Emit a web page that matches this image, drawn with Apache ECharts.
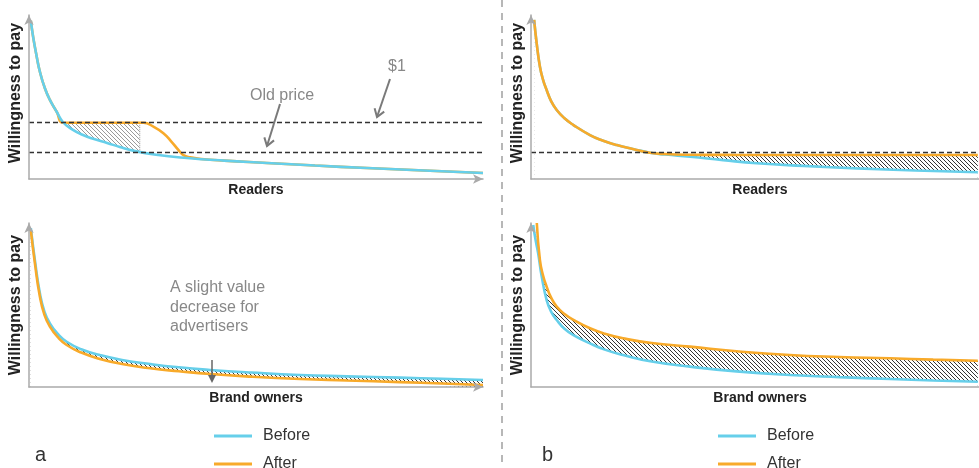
<!DOCTYPE html>
<html><head><meta charset="utf-8">
<script src="https://cdn.jsdelivr.net/npm/echarts/dist/echarts.min.js"></script>
<style>html,body{margin:0;padding:0;background:#fff}#c{width:979px;height:468px}</style>
</head><body><div id="c"></div>
<script>
// ---------- DATA (x: share of audience 0-100, y: willingness to pay 0-100) ----------
// Panel a, top: Readers
const aReadersX      = [0.4, 0.9, 1.7, 2.4, 3.5, 4.6, 6.1, 7.5, 9.5, 11.9, 14.5, 17.2, 20, 22.9, 28, 34.8, 43, 52.4, 63, 74.4, 87, 100];
const aReadersBefore = [96.5, 86.8, 74.6, 65.4, 55.3, 48.2, 41.0, 34.6, 30.3, 26.8, 24.2, 22.0, 19.5, 17.3, 14.8, 12.8, 11.2, 9.8, 8.2, 6.7, 5.2, 3.7];
const aReadersAfterX = [0.4, 0.9, 1.7, 2.4, 3.5, 4.6, 6.1, 7.5, 12, 18, 23, 25.2, 27.4, 29.6, 31.4, 32.9, 34.0, 35.5, 38, 43, 52.4, 63, 74.4, 87, 100];
const aReadersAfter  = [96.5, 86.8, 74.6, 65.4, 55.3, 48.2, 41.0, 34.3, 34.3, 34.3, 34.3, 34.3, 31.9, 27.9, 22.7, 17.7, 14.6, 13.2, 12.2, 11.2, 9.8, 8.2, 6.7, 5.2, 3.7];
const aGainX         = [7.5, 24.4];      // readers who gain surplus
const aGainTop       = [34.3, 34.3];
const aCutX          = [24.4, 24.4];     // dotted cut-off
const aCutY          = [16.6, 34.3];
const aPriceLevels   = [34.3, 16.5];     // $1 and old price
// Panel b, top: Readers
const bReadersX      = [0.7, 1.3, 2.0, 2.7, 3.5, 4.5, 5.75, 7.5, 9.5, 13.2, 16, 19.2, 23, 26.6, 30, 35.6, 43, 50.5, 61, 72.9, 86, 100];
const bReadersBefore = [97, 82, 68.5, 60.5, 54.3, 47.5, 42.1, 37, 32.9, 26.8, 23.5, 20.7, 18.2, 16.0, 14.9, 13.6, 11.5, 9.6, 8.0, 6.5, 5.2, 4.1];
const bReadersAfter  = [97, 82, 68.5, 60.5, 54.3, 47.5, 42.1, 37, 32.9, 26.8, 23.5, 20.7, 18.2, 16.0, 15.2, 14.8, 14.7, 14.6, 14.6, 14.6, 14.6, 14.6];
const bPriceLevels   = [16.3];
// Panel a, bottom: Brand owners
const aBrandX        = [0.4, 1.3, 2.4, 3.4, 4.6, 6.3, 8.3, 11.5, 15.6, 20.5, 26.7, 33, 39.9, 49, 59.7, 70, 81.7, 91, 100];
const aBrandBefore   = [96.8, 77.4, 57.1, 46, 38.8, 32.5, 27.6, 23, 19.5, 16.5, 14, 12, 10.4, 8.8, 7.3, 6.5, 5.7, 5.0, 4.3];
const aBrandAfter    = [95.7, 75.4, 55, 44, 36.8, 30.5, 25.6, 21, 17.1, 14, 11.4, 9.6, 7.9, 6.3, 4.9, 4.0, 3.0, 2.1, 1.2];
// Panel b, bottom: Brand owners
const bBrandX        = [0.5, 1.0, 1.6, 2.4, 3.5, 4.5, 5.75, 7.5, 9.5, 13.2, 16.5, 20.6, 27, 35.6, 46, 57.9, 69, 80.3, 90, 100];
const bBrandBefore   = [98.8, 90, 81.5, 67.3, 53, 46, 40.9, 35.5, 31.7, 26.6, 22.8, 19.5, 15.5, 12.4, 9.5, 7.3, 6.0, 4.9, 4.0, 3.2];
const bBrandAfterX   = [1.3, 2.0, 2.7, 3.5, 4.5, 5.75, 7.5, 9.5, 13.2, 16.5, 20.6, 27, 35.6, 46, 57.9, 69, 80.3, 90, 100];
const bBrandAfter    = [100, 77.4, 68, 61.2, 54.5, 49, 44.5, 40.9, 35.8, 32.5, 29.7, 26.8, 24.6, 21.8, 19.5, 18.3, 17.5, 16.7, 16];

const legendNames = ['Before', 'After'];
const xNames = ['Readers', 'Readers', 'Brand owners', 'Brand owners'];
const yName = 'Willingness to pay';

// ---------- STYLE ----------
const FONT = '"Liberation Sans", Arial, Helvetica, sans-serif';
const BLUE = '#66CFEA', ORANGE = '#F8AA2A';

function zip(xs, ys) { return xs.map((x, i) => [x, ys[i]]); }
function hatch(color) {
  const s = 4, c = document.createElement('canvas');
  c.width = c.height = s;
  const g = c.getContext('2d');
  g.strokeStyle = color; g.lineWidth = 1;
  g.beginPath();
  g.moveTo(0, 0); g.lineTo(s, s);
  g.moveTo(-1, s - 1); g.lineTo(1, s + 1);
  g.moveTo(s - 1, -1); g.lineTo(s + 1, 1);
  g.stroke();
  return { image: c, repeat: 'repeat' };
}
const HATCH_LIGHT = hatch('#9a9a9a');
const HATCH_DARK = hatch('#333333');

function base(name, gi, data, z) {
  return { type: 'line', name, xAxisIndex: gi, yAxisIndex: gi, data, z,
    smooth: 0.5, symbol: 'none', showSymbol: false,
    silent: true, animation: false, emphasis: { disabled: true } };
}
function line(name, gi, data, color, z, extra) {
  return Object.assign(base(name, gi, data, z), {
    color, itemStyle: { color }, lineStyle: { color, width: 2.6 } }, extra || {});
}
function fill(name, gi, data, fillColor, z) {
  return Object.assign(base(name, gi, data, z), {
    lineStyle: { width: 0, opacity: 0 }, areaStyle: { color: fillColor, opacity: 1 } });
}
function priceMarks(levels) {
  return { silent: true, symbol: 'none', animation: false, label: { show: false },
    lineStyle: { type: [5, 3], color: '#333', width: 1.4 },
    data: levels.map(v => ({ yAxis: v })) };
}

const grids = [
  { left: 29, top: 15, width: 454, height: 164, outerBoundsMode: 'none', containLabel: false },
  { left: 531, top: 15, width: 458, height: 164, outerBoundsMode: 'none', containLabel: false },
  { left: 29, top: 223, width: 454, height: 164, outerBoundsMode: 'none', containLabel: false },
  { left: 531, top: 223, width: 458, height: 164, outerBoundsMode: 'none', containLabel: false }
];
const axisLine = { show: true, symbol: ['none', 'arrow'], symbolSize: [7, 10],
  lineStyle: { color: '#aaaaaa', width: 1.5 } };
const xAxis = grids.map((g, i) => ({
  type: 'value', gridIndex: i, min: 0, max: (i % 2) ? 102.5 : 100, z: 10,
  axisLine, axisTick: { show: false }, axisLabel: { show: false }, splitLine: { show: false },
  name: xNames[i], nameLocation: 'middle', nameGap: 4,
  nameTextStyle: { fontFamily: FONT, fontSize: 14, fontWeight: 'bold', color: '#222', verticalAlign: 'top' }
}));
const yAxis = grids.map((g, i) => ({
  type: 'value', gridIndex: i, min: 0, max: 100, z: 10,
  axisLine, axisTick: { show: false }, axisLabel: { show: false }, splitLine: { show: false },
  name: yName, nameLocation: 'middle', nameGap: 5, nameRotate: 90,
  nameTextStyle: { fontFamily: FONT, fontSize: 16, fontWeight: 'bold', color: '#222',
    padding: i < 2 ? [0, 0, 0, 8] : 0 }
}));

const series = [
  // a top
  fill('aGain', 0, zip(aGainX, aGainTop), HATCH_LIGHT, 1),
  fill('aMask', 0, zip(aReadersX, aReadersBefore), '#ffffff', 2),
  Object.assign(base('aCut', 0, zip(aCutX, aCutY), 3), { smooth: false, lineStyle: { color: '#999', width: 1, type: 'dotted' } }),
  line('After', 0, zip(aReadersAfterX, aReadersAfter), ORANGE, 3),
  line('Before', 0, zip(aReadersX, aReadersBefore), BLUE, 4, { markLine: priceMarks(aPriceLevels) }),
  // b top
  fill('bGain', 1, zip(bReadersX, bReadersAfter), HATCH_DARK, 1),
  fill('bMask', 1, zip(bReadersX, bReadersBefore), '#ffffff', 2),
  line('Before', 1, zip(bReadersX, bReadersBefore), BLUE, 3),
  line('After', 1, zip(bReadersX, bReadersAfter), ORANGE, 4, { markLine: priceMarks(bPriceLevels) }),
  // a bottom
  fill('aLoss', 2, zip(aBrandX, aBrandBefore), HATCH_DARK, 1),
  fill('aMask2', 2, zip(aBrandX, aBrandAfter), '#ffffff', 2),
  line('Before', 2, zip(aBrandX, aBrandBefore), BLUE, 3),
  line('After', 2, zip(aBrandX, aBrandAfter), ORANGE, 4),
  // b bottom
  fill('bGain2', 3, zip(bBrandAfterX, bBrandAfter), HATCH_DARK, 1),
  fill('bMask2', 3, zip(bBrandX, bBrandBefore), '#ffffff', 2),
  line('Before', 3, zip(bBrandX, bBrandBefore), BLUE, 3),
  line('After', 3, zip(bBrandAfterX, bBrandAfter), ORANGE, 4)
];

function legendItem(left, top, name) {
  return { left, top, padding: 0, orient: 'horizontal', data: [name], icon: 'rect',
    itemWidth: 38, itemHeight: 3, selectedMode: false,
    textStyle: { fontFamily: FONT, fontSize: 16, color: '#333', padding: [0, 0, 0, 6] } };
}
const legend = [
  legendItem(214, 428, legendNames[0]), legendItem(214, 456, legendNames[1]),
  legendItem(718, 428, legendNames[0]), legendItem(718, 456, legendNames[1])
];

function arrow(x1, y1, x2, y2, color, lw, head) {
  const dx = x2 - x1, dy = y2 - y1, L = Math.hypot(dx, dy), bx = -dx / L, by = -dy / L;
  const rot = a => [bx * Math.cos(a) - by * Math.sin(a), bx * Math.sin(a) + by * Math.cos(a)];
  const r1 = rot(0.6), r2 = rot(-0.6);
  return [
    { type: 'line', silent: true, z: 100, shape: { x1, y1, x2, y2 }, style: { stroke: color, lineWidth: lw } },
    { type: 'polyline', silent: true, z: 100, shape: { points: [[x2 + r1[0] * head, y2 + r1[1] * head], [x2, y2], [x2 + r2[0] * head, y2 + r2[1] * head]] },
      style: { stroke: color, lineWidth: lw, fill: null } }
  ];
}
function label(x, y, text, size, color) {
  return { type: 'text', silent: true, z: 100, x, y, style: { text, fill: color, font: size + 'px ' + FONT,
    textAlign: 'left', textVerticalAlign: 'middle' } };
}

const graphic = { elements: [
  { type: 'line', silent: true, shape: { x1: 502, y1: 0, x2: 502, y2: 468 }, style: { stroke: '#a0a0a0', lineWidth: 1.5, lineDash: [7, 6] } },
  label(250, 96, 'Old price', 16, '#888'),
  label(388, 67, '$1', 16, '#888'),
  ...arrow(280, 104, 267, 146, '#7a7a7a', 2, 9),
  ...arrow(390, 79, 377, 117, '#7a7a7a', 2, 9),
  { type: 'text', silent: true, x: 170, y: 278, style: { text: 'A slight value\ndecrease for\nadvertisers', fill: '#888',
    font: '16px ' + FONT, lineHeight: 19.5, textAlign: 'left', textVerticalAlign: 'top' } },
  { type: 'line', silent: true, z: 100, shape: { x1: 212, y1: 360, x2: 212, y2: 376 }, style: { stroke: '#666', lineWidth: 1.5 } },
  { type: 'polygon', silent: true, z: 100, shape: { points: [[208, 375], [216, 375], [212, 383]] }, style: { fill: '#666' } },
  label(35, 455, 'a', 20, '#333'),
  label(542, 455, 'b', 20, '#333')
] };

const chart = echarts.init(document.getElementById('c'));
chart.setOption({
  animation: false,
  backgroundColor: '#ffffff',
  grid: grids,
  xAxis, yAxis, series, legend,
  graphic: Object.assign({ z: 100 }, graphic)
});
</script></body></html>
